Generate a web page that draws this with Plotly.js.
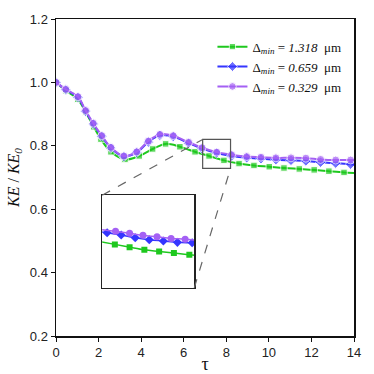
<!DOCTYPE html>
<html>
<head>
<meta charset="utf-8">
<script src="https://cdn.plot.ly/plotly-3.0.1.min.js"></script>
<style>
  html, body { margin: 0; padding: 0; background: #fff; }
  #useGraph { width: 374px; height: 374px; }
</style>
</head>
<body>
<div id="useGraph"></div>
<script>
// values
var tau1318 = [0, 0.46, 1.02, 1.40, 1.77, 2.11, 2.58, 3.24, 3.91, 4.54, 5.15, 5.82, 6.53, 7.19, 7.89, 8.60, 9.30, 10.02, 10.71, 11.43, 12.13, 12.82, 13.53, 14];
var ke1318 = [1.0, 0.974, 0.947, 0.906, 0.860, 0.821, 0.781, 0.757, 0.768, 0.790, 0.806, 0.797, 0.781, 0.768, 0.754, 0.744, 0.738, 0.734, 0.730, 0.727, 0.724, 0.720, 0.716, 0.714];

var tauFine = [0, 0.46, 1.03, 1.39, 1.75, 2.15, 2.58, 3.19, 3.79, 4.34, 4.88, 5.51, 6.23, 6.86, 7.55, 8.25, 8.96, 9.63, 10.33, 11.04, 11.74, 12.43, 13.14, 13.84, 14];
var ke0659 = [1.0, 0.977, 0.953, 0.909, 0.869, 0.830, 0.793, 0.766, 0.779, 0.812, 0.833, 0.829, 0.808, 0.791, 0.777, 0.768, 0.762, 0.759, 0.756, 0.754, 0.752, 0.748, 0.745, 0.742, 0.741];
var ke0329 = [1.0, 0.978, 0.955, 0.911, 0.871, 0.832, 0.795, 0.768, 0.781, 0.815, 0.836, 0.832, 0.811, 0.794, 0.780, 0.772, 0.766, 0.764, 0.762, 0.762, 0.761, 0.757, 0.755, 0.755, 0.755];

// inset (zoom) readings
var insetTau1318 = [6.75, 7.07, 7.28, 7.49, 7.70, 7.91, 8.13, 8.35];
var insetKe1318 = [0.7758, 0.7717, 0.7690, 0.7664, 0.7648, 0.7632, 0.7615, 0.7600];
var insetTau0659 = [6.80, 6.96, 7.16, 7.36, 7.56, 7.76, 7.96, 8.17, 8.35];
var insetKe0659 = [0.7848, 0.7832, 0.7809, 0.7782, 0.7763, 0.7750, 0.7737, 0.7733, 0.7728];
var insetTau0329 = [6.80, 7.08, 7.28, 7.47, 7.67, 7.87, 8.07, 8.30];
var insetKe0329 = [0.7868, 0.7845, 0.7826, 0.7806, 0.7792, 0.7776, 0.7767, 0.7752];

var labels = ['1.318', '0.659', '0.329'];
var xRange = [0, 14];
var yRange = [0.2, 1.2];
var zoomX = [6.89, 8.20];
var zoomY = [0.729, 0.820];
var insetDomX = [0.155, 0.464];
var insetDomY = [0.152, 0.444];

var green = '#1ec81e', blue = '#3535ff', purple = '#a460f4';

function sizes(t, s) {
  // no symbol on the last (end-of-line) sample
  return t.map(function (v, i) { return i === t.length - 1 ? 0 : s; });
}
function legendName(v) {
  return '\u0394<sub><i>min</i></sub> = <i>' + v + '</i>  \u03bcm';
}

var data = [
  { x: tau1318, y: ke1318, name: legendName(labels[0]), mode: 'lines+markers',
    line: { color: green, width: 2, shape: 'spline' },
    marker: { symbol: 'square', color: green, size: sizes(tau1318, 6.5) } },
  { x: tauFine, y: ke0659, name: legendName(labels[1]), mode: 'lines+markers',
    line: { color: blue, width: 2, shape: 'spline' },
    marker: { symbol: 'diamond', color: blue, size: sizes(tauFine, 8) } },
  { x: tauFine, y: ke0329, name: legendName(labels[2]), mode: 'lines+markers',
    line: { color: purple, width: 2, shape: 'spline' },
    marker: { symbol: 'circle', color: purple, size: sizes(tauFine, 8) } },
  // inset
  { x: insetTau1318, y: insetKe1318, xaxis: 'x2', yaxis: 'y2', showlegend: false, mode: 'lines+markers',
    line: { color: green, width: 1.5, shape: 'spline' }, marker: { symbol: 'square', color: green, size: 6 } },
  { x: insetTau0659, y: insetKe0659, xaxis: 'x2', yaxis: 'y2', showlegend: false, mode: 'lines+markers',
    line: { color: blue, width: 1.5, shape: 'spline' }, marker: { symbol: 'diamond', color: blue, size: 7 } },
  { x: insetTau0329, y: insetKe0329, xaxis: 'x2', yaxis: 'y2', showlegend: false, mode: 'lines+markers',
    line: { color: purple, width: 1.5, shape: 'spline' }, marker: { symbol: 'circle', color: purple, size: 7 } }
];

// inset corners expressed in main-axis units
var cx0 = xRange[0] + insetDomX[0] * (xRange[1] - xRange[0]);
var cx1 = xRange[0] + insetDomX[1] * (xRange[1] - xRange[0]);
var cy0 = yRange[0] + insetDomY[0] * (yRange[1] - yRange[0]);
var cy1 = yRange[0] + insetDomY[1] * (yRange[1] - yRange[0]);

var tickFont = { family: 'Liberation Sans, Arial, sans-serif', size: 13, color: '#222' };

var layout = {
  width: 374, height: 374,
  margin: { l: 56, r: 20, t: 19, b: 38 },
  paper_bgcolor: '#fff', plot_bgcolor: '#fff',
  showlegend: true,
  legend: {
    x: 0.525, y: 0.96, xanchor: 'left', yanchor: 'top',
    bgcolor: 'rgba(0,0,0,0)',
    font: { family: 'Liberation Serif, Times New Roman, serif', size: 13, color: '#111' },
    tracegroupgap: 0
  },
  xaxis: {
    range: xRange, dtick: 2, tick0: 0,
    showgrid: false, zeroline: false,
    showline: true, linecolor: '#111', linewidth: 1.5, mirror: true,
    ticks: 'outside', ticklen: 4, tickcolor: '#111',
    tickfont: tickFont,
    title: { text: '\u03c4', font: { family: 'Liberation Serif, serif', size: 18, color: '#111' }, standoff: 4 }
  },
  yaxis: {
    range: yRange, dtick: 0.2, tick0: 0.2, tickformat: '.1f',
    showgrid: false, zeroline: false,
    showline: true, linecolor: '#111', linewidth: 1.5, mirror: true,
    ticks: 'outside', ticklen: 4, tickcolor: '#111',
    tickfont: tickFont,
    title: { text: '<i>KE</i> / <i>KE<sub>0</sub></i>', font: { family: 'Liberation Serif, serif', size: 16, color: '#111' }, standoff: 6 }
  },
  xaxis2: {
    domain: insetDomX, anchor: 'y2', range: zoomX,
    showgrid: false, zeroline: false, showticklabels: false, ticks: '',
    showline: true, linecolor: '#222', linewidth: 1.5, mirror: true
  },
  yaxis2: {
    domain: insetDomY, anchor: 'x2', range: zoomY,
    showgrid: false, zeroline: false, showticklabels: false, ticks: '',
    showline: true, linecolor: '#222', linewidth: 1.5, mirror: true
  },
  shapes: [
    { type: 'rect', xref: 'x', yref: 'y', x0: zoomX[0], x1: zoomX[1], y0: zoomY[0], y1: zoomY[1],
      line: { color: '#555', width: 1.2 } },
    { type: 'line', xref: 'x', yref: 'y', x0: cx0, y0: cy1, x1: zoomX[0], y1: zoomY[1],
      line: { color: '#666', width: 1.2, dash: 'dash' } },
    { type: 'line', xref: 'x', yref: 'y', x0: cx1, y0: cy0, x1: zoomX[1], y1: zoomY[0],
      line: { color: '#666', width: 1.2, dash: 'dash' } }
  ]
};

Plotly.newPlot('useGraph', data, layout, { staticPlot: true });
</script>
</body>
</html>
